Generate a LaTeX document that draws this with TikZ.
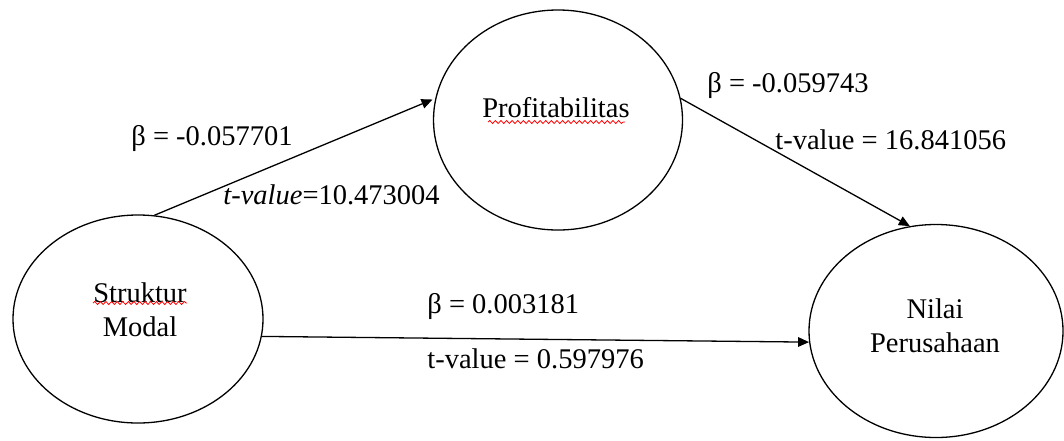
\documentclass[tikz,border=0pt]{standalone}
\usepackage{fontspec}
\setmainfont{Liberation Serif}
\usetikzlibrary{shapes.geometric, arrows.meta, decorations.pathmorphing}

\begin{document}
\begin{tikzpicture}[x=0.5pt, y=-0.5pt,
    latent/.style={draw, ellipse, line width=0.65pt, inner sep=0pt},
    vartext/.style={align=center, inner sep=0pt, font=\fontsize{14.25}{17}\selectfont},
    coef/.style={anchor=west, inner sep=0pt, font=\fontsize{14.25}{17}\selectfont},
    link/.style={-{Triangle[length=5.5pt, width=4.8pt]}, line width=0.65pt},
    squiggle/.style={red, line width=0.4pt, decorate, decoration={snake, amplitude=0.75pt, segment length=2.8pt}}]
    \useasboundingbox (0,0) rectangle (1064,440);

    % Variables
    \node[latent, minimum width=125pt, minimum height=104pt] (sm) at (138, 319) {};
    \node[latent, minimum width=124.5pt, minimum height=110pt] (pr) at (558, 120) {};
    \node[latent, minimum width=127pt, minimum height=106.5pt] (nv) at (936, 331) {};
    \node[vartext] (smtxt) at (140, 310) {Struktur\\Modal};
    \node[vartext] (prtxt) at (556, 108) {Profitabilitas};
    \node[vartext] (nvtxt) at (935, 326) {Nilai\\Perusahaan};

    % Spelling marks
    \draw[squiggle] (93, 303) -- (187, 303);
    \draw[squiggle] (488, 122) -- (625, 122);

    % Paths
    \draw[link, shorten >=1.5pt] (sm.81) -- (pr.170);
    \draw[link] (pr.10) -- (nv.104);
    \draw[link] (sm.-8) -- (nv.185);

    % Coefficients
    \node[coef] (b1) at (131, 138) {β = -0.057701};
    \node[coef] (t1) at (223, 195) {\textit{t-value}=10.473004};
    \node[coef] (b2) at (707, 85) {β = -0.059743};
    \node[coef] (t2) at (775, 140) {t-value = 16.841056};
    \node[coef] (b3) at (427, 306) {β = 0.003181};
    \node[coef] (t3) at (427, 359) {t-value = 0.597976};
\end{tikzpicture}
\end{document}
